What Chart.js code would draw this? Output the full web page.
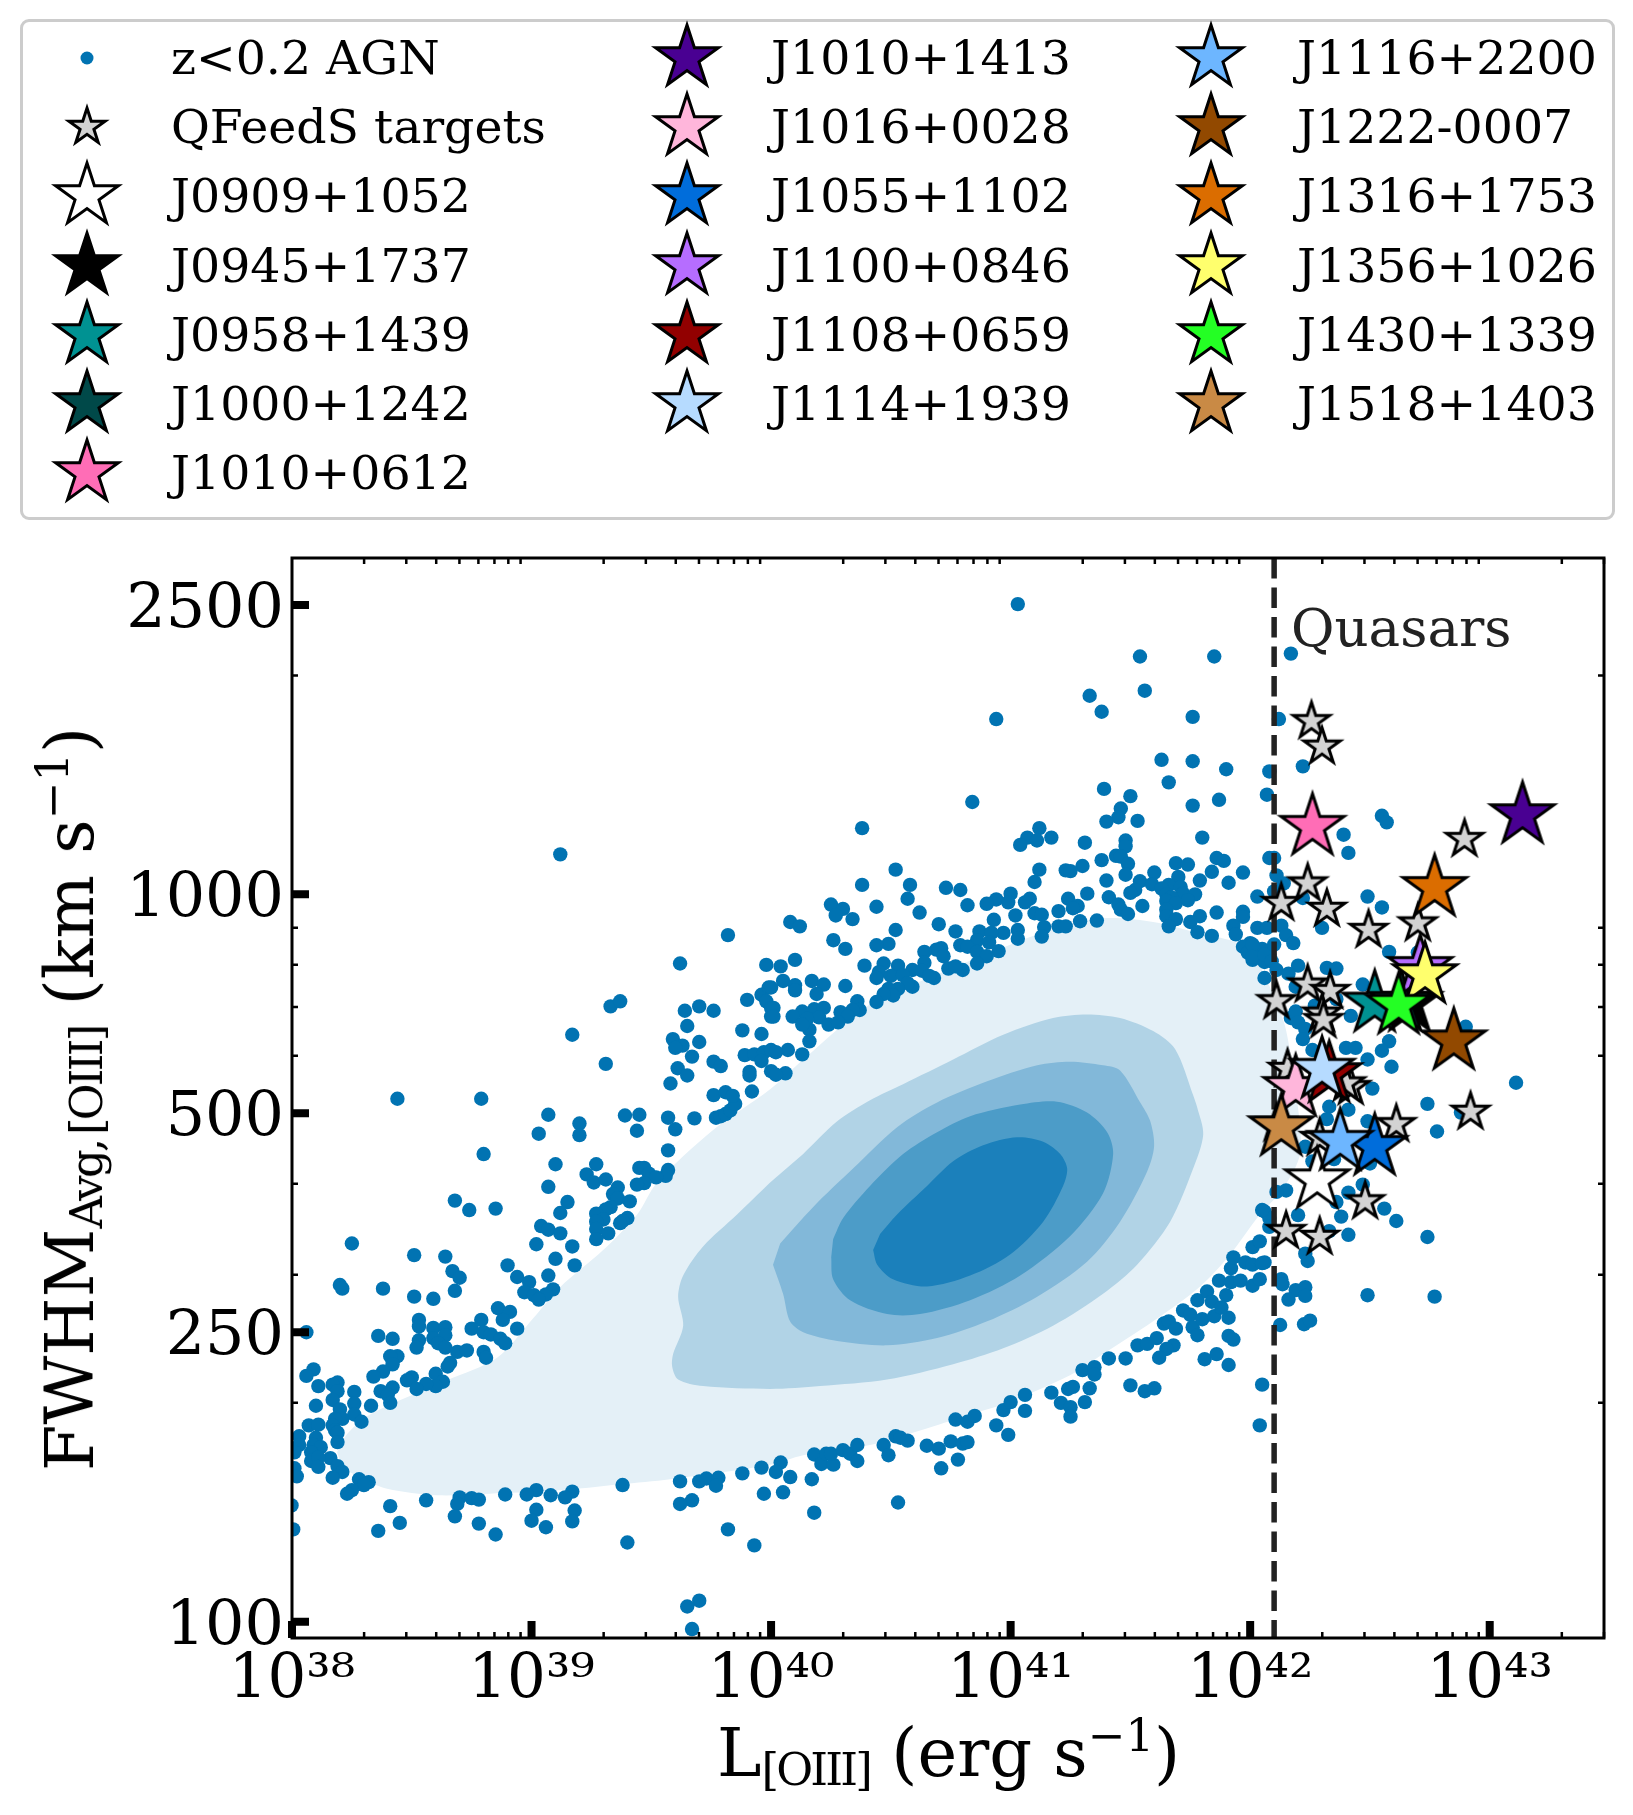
<!DOCTYPE html>
<html>
<head>
<meta charset="utf-8">
<title>FWHM vs L[OIII]</title>
<script src="https://cdn.jsdelivr.net/npm/chart.js@4"></script>
<style>
    body { margin: 0; background: #fff; font-family: "DejaVu Serif", serif; color: #000; }
    #page { position: relative; width: 1633px; height: 1815px; overflow: hidden; }
    #chart { position: absolute; left: 0; top: 0; }
    #legend { position: absolute; left: 20px; top: 19px; width: 1589px; height: 495px; border: 3px solid #ccc; border-radius: 9px; }
    .entry { position: absolute; font-size: 47.4px; line-height: 60px; white-space: nowrap; }
    .entry canvas { position: absolute; }
    .title { position: absolute; font-size: 67px; line-height: 80px; white-space: nowrap; }
    .title sub { font-size: 45px; line-height: 0; vertical-align: -9px; letter-spacing: -2.8px; word-spacing: -6px; }
    .title sup { font-size: 45px; line-height: 0; vertical-align: 25px; }
    #xTitle { left: 717px; top: 1713px; }
    #yTitle { left: 69.5px; top: 1099px; transform: translate(-50%, -50%) rotate(-90deg); }
    #quasars { position: absolute; left: 1291px; top: 596px; font-size: 53px; line-height: 64px; color: #222; }
</style>
</head>
<body>
<div id="page">
    <canvas id="chart" width="1633" height="1815"></canvas>
    <div id="legend"></div>
    <div class="title" id="xTitle">L<sub>[OIII]</sub> (erg s<sup>−1</sup>)</div>
    <div class="title" id="yTitle">FWHM<sub>Avg, [OIII]</sub> (km s<sup>−1</sup>)</div>
    <div id="quasars">Quasars</div>
</div>
<script>
// axis ticks
const xTickValues = [1e38, 1e39, 1e40, 1e41, 1e42, 1e43];
const xTickLabels = ['10³⁸', '10³⁹', '10⁴⁰', '10⁴¹', '10⁴²', '10⁴³'];
const xMinorMultiples = [2, 3, 4, 5, 6, 7, 8, 9];
const yTickValues = [100, 250, 500, 1000, 2500];
const yMinorValues = [200, 300, 400, 600, 700, 800, 900, 2000];

// axis limits
const xMin = 1e38, xMax = 3e43;
const yMin = 95, yMax = 2900;

// quasar cut, erg/s
const quasarCut = 10 ** 42.1;

// z<0.2 AGN outside the density contours, [log L, log FWHM]
const agnLowLumUpper = [
    [38.44,2.719],[38.79,2.719],[39.07,2.697],[39.03,2.671],[39.20,2.685],[39.20,2.669],[39.39,2.696],[39.45,2.697],[39.44,2.675],[39.57,2.693],
    [39.60,2.677],[39.68,2.692],[39.77,2.693],[39.79,2.695],[39.81,2.698],[39.83,2.703],[39.85,2.712],[38.80,2.643],[39.57,2.648],[39.10,2.629],
    [39.27,2.629],[39.45,2.624],[39.47,2.624],[39.49,2.616],[39.23,2.615],[39.26,2.604],[39.31,2.608],[39.57,2.621],[39.56,2.613],[39.52,2.611],
    [39.47,2.603],[39.44,2.601],[39.07,2.598],[39.36,2.597],[39.34,2.588],[39.36,2.582],[39.15,2.577],[39.41,2.578],[39.33,2.570],[39.31,2.567],
    [38.68,2.579],[38.74,2.566],[38.85,2.568],[39.12,2.562],[39.27,2.561],[39.30,2.553],[39.27,2.550],[39.40,2.555],[39.38,2.551],[39.37,2.548],
    [39.04,2.544],[39.07,2.539],[39.27,2.540],[39.12,2.534],[39.32,2.534],[39.27,2.526],[39.02,2.519],[39.17,2.516],[38.25,2.520],[38.51,2.504],
    [38.64,2.502],[39.10,2.499],[39.18,2.490],[38.90,2.490],[38.67,2.482],[38.70,2.473],[38.94,2.474],[39.07,2.476],[38.99,2.467],[38.20,2.463],
    [38.21,2.458],[38.38,2.458],[38.68,2.455],[39.09,2.457],[39.06,2.450],[38.97,2.453],[39.01,2.449],[39.03,2.443],[38.51,2.447],[38.59,2.444],
    [38.86,2.431],[38.91,2.426],[38.88,2.415],[38.53,2.415],[38.53,2.406],[38.79,2.415],[38.75,2.403],[38.94,2.403],[38.59,2.404],[38.64,2.405],
    [38.64,2.394],[38.59,2.390],[38.06,2.398],[38.36,2.393],[38.42,2.389],[38.80,2.398],[38.83,2.395],[38.87,2.389],[38.89,2.383],[38.53,2.387],
    [38.52,2.377],[38.61,2.383],[38.64,2.377],[38.69,2.371],[38.73,2.373],[38.80,2.371],[38.81,2.363],[38.44,2.365],[38.41,2.365],[38.42,2.354],
    [38.66,2.356],[38.65,2.351],[38.09,2.347],[38.06,2.338],[38.38,2.344],[38.34,2.337],[38.50,2.336],[38.48,2.332],[38.60,2.341],[38.63,2.330],
    [38.60,2.324],[38.56,2.327],[38.52,2.320],[38.19,2.329],[38.17,2.326],[38.11,2.324],[38.19,2.317],[38.42,2.322],[38.37,2.317],[38.40,2.312],
    [38.41,2.301],[38.26,2.316],[38.17,2.305],[38.26,2.300],[38.10,2.297],[38.33,2.297],[38.20,2.292],[38.26,2.285],[38.29,2.275],[38.21,2.279],
    [38.18,2.279],[38.17,2.270],[38.07,2.270],[38.11,2.271],[38.18,2.263],[38.19,2.260],[38.03,2.255],[38.10,2.253],[38.19,2.247],[38.03,2.243],
    [38.09,2.243],[38.12,2.240],[38.01,2.233],[38.08,2.233],[38.16,2.225],[38.08,2.221],[38.11,2.226],[38.19,2.214],[38.11,2.213],[38.21,2.206],
    [38.01,2.211],[38.17,2.198],[38.02,2.200],[38.28,2.196],[38.32,2.192],[38.30,2.188],[38.25,2.181],[38.23,2.176]
];
const agnLowLumLower = [
    [39.38,2.188],[39.62,2.193],[39.70,2.193],[39.73,2.197],[39.78,2.198],[39.77,2.187],[39.88,2.204],[39.96,2.212],[39.02,2.181],[38.98,2.175],
    [38.89,2.175],[39.08,2.174],[39.17,2.179],[39.14,2.171],[38.56,2.167],[38.70,2.171],[38.75,2.170],[38.78,2.168],[39.67,2.167],[39.62,2.162],
    [39.97,2.176],[38.41,2.159],[38.69,2.162],[39.18,2.153],[39.02,2.154],[38.68,2.145],[38.45,2.136],[39.00,2.139],[39.17,2.138],[38.78,2.135],
    [39.06,2.130],[38.36,2.125],[38.85,2.120],[38.005,2.127],[39.82,2.127],[39.40,2.109],[39.93,2.105],[39.70,2.029],[39.65,2.021],[39.67,1.990],
    [37.998,2.160]
];
const agnFarUpper = [
    [39.12,3.055],[39.17,2.807],[39.33,2.846],[39.37,2.853],[39.31,2.767],[39.82,2.944],[39.62,2.905],[39.98,2.903],[39.64,2.840],[39.70,2.846],
    [39.76,2.840],[39.65,2.819],[39.90,2.855],[39.96,2.862],[39.99,2.872],[39.98,2.853],[40.00,2.832],[39.88,2.813],[39.96,2.808],[39.59,2.801],
    [39.63,2.792],[39.60,2.789],[39.70,2.797],[39.67,2.777],[39.76,2.770],[39.79,2.764],[39.61,2.761],[39.65,2.751],[39.58,2.740],[39.89,2.779],
    [39.93,2.780],[39.97,2.783],[39.96,2.771],[40.00,2.786],[39.91,2.756],[39.91,2.751],[40.00,2.757],[39.92,2.729],[39.76,2.724],[39.81,2.728],
    [39.84,2.723]
];
const agnHighLumUpper = [
    [41.03,3.399],[41.54,3.327],[41.85,3.327],[41.33,3.273],[41.38,3.251],[41.56,3.280],[41.76,3.244],[40.94,3.241],[41.63,3.185],[41.76,3.183],
    [41.90,3.172],[41.66,3.154],[42.08,3.169],[42.07,3.137],[41.87,3.130],[41.76,3.122],[40.84,3.127],[40.38,3.091],[41.39,3.145],[41.50,3.135],
    [41.46,3.118],[41.45,3.106],[41.40,3.100],[41.53,3.101],[41.80,3.078],[41.12,3.091],[41.07,3.078],[41.11,3.074],[41.04,3.068],[41.17,3.078],
    [41.31,3.071],[41.48,3.074],[41.48,3.066],[41.38,3.047],[41.44,3.053],[41.46,3.052],[41.49,3.042],[41.86,3.050],[41.89,3.046],[42.08,3.050],
    [41.69,3.043],[41.74,3.041],[41.84,3.031],[41.97,3.030],[41.30,3.039],[41.23,3.033],[41.25,3.032],[41.12,3.034],[40.52,3.034],[41.10,3.017],
    [40.38,3.013],[40.58,3.013],[41.48,3.027],[41.40,3.019],[41.60,3.030],[41.54,3.018],[41.59,3.014],[41.70,3.024],[41.66,3.013],[41.79,3.019],
    [41.91,3.016],[41.71,3.010],[41.63,3.008],[40.73,3.009],[40.79,3.006],[41.52,3.006],[41.50,3.002],[41.32,3.001],[41.65,3.000],[41.72,3.001],
    [41.77,3.000],[41.67,2.996],[42.03,2.997],[41.00,3.001],[40.57,2.994],[40.82,2.985],[40.94,2.993],[40.90,2.987],[40.99,2.989],[41.08,2.994],
    [41.06,2.989],[41.24,2.994],[41.41,2.996],[41.65,2.991],[41.69,2.988],[41.74,2.992],[40.25,2.986],[40.30,2.980],[40.27,2.971],[40.34,2.966],
    [40.44,2.983],[40.62,2.975],[40.08,2.962],[40.12,2.956],[41.28,2.984],[41.26,2.981],[41.20,2.977],[41.45,2.986],[41.46,2.979],[41.49,2.973],
    [41.55,2.984],[41.65,2.979],[41.65,2.970],[41.86,2.975],[41.97,2.976],[41.97,2.969],[41.02,2.971],[41.10,2.974],[41.13,2.972],[40.93,2.965],
    [41.79,2.970],[41.69,2.966],[40.70,2.959],[41.36,2.964],[41.29,2.963],[41.75,2.962],[41.20,2.956],[41.23,2.956],[41.66,2.956],[41.14,2.955],
    [41.93,2.957],[42.03,2.954],[42.07,2.954],[40.52,2.951],[40.77,2.949],[40.87,2.949],[41.03,2.951],[41.78,2.948],[41.84,2.943],[41.94,2.945],
    [40.97,2.947],[40.92,2.947],[41.13,2.942],[40.26,2.937],[41.03,2.939],[40.86,2.937],[40.49,2.932],[40.44,2.930],[40.91,2.934],[40.79,2.930],
    [40.82,2.928],[40.31,2.925],[42.00,2.933],[41.97,2.928],[42.05,2.925],[40.71,2.926],[40.69,2.924],[40.64,2.921],[40.95,2.922],[40.86,2.921],
    [40.90,2.915],[40.72,2.915],[41.99,2.920],[42.08,2.917],[40.10,2.910],[40.86,2.905],[40.64,2.906],[40.39,2.902],[40.47,2.905],[40.53,2.902],
    [40.04,2.901],[42.01,2.910],[42.06,2.907],[40.74,2.898],[40.80,2.896],[40.77,2.901],[40.59,2.896],[40.63,2.895],[40.45,2.893],[40.50,2.888],
    [40.44,2.885],[40.55,2.889],[40.68,2.885],[40.66,2.888],[42.06,2.885],[40.17,2.881],[40.22,2.876],[40.05,2.881],[40.10,2.875],[40.10,2.868],
    [40.00,2.872],[40.31,2.874],[40.59,2.873],[40.57,2.878],[40.19,2.863],[40.53,2.870],[40.49,2.870],[40.51,2.861],[40.47,2.863],[40.36,2.853],
    [40.44,2.852],[40.37,2.841],[40.34,2.841],[40.00,2.844],[40.01,2.844],[40.01,2.832],[40.18,2.842],[40.22,2.844],[40.13,2.839],[40.09,2.832],
    [40.29,2.838],[40.32,2.832],[40.20,2.831],[40.15,2.829],[40.24,2.821],[40.28,2.824],[40.16,2.814],[40.13,2.821],[40.16,2.798],[40.07,2.786],
    [40.02,2.783],[40.13,2.780],[40.06,2.754],[40.02,2.752]
];
const agnHighLumLower = [
    [40.04,2.219],[40.02,2.206],[40.08,2.199],[40.05,2.178],[40.17,2.196],[40.18,2.150],[40.18,2.230],[40.21,2.217],[40.23,2.231],[40.26,2.216],
    [40.25,2.231],[40.30,2.236],[40.33,2.231],[40.36,2.243],[40.36,2.221],[40.47,2.243],[40.49,2.229],[40.52,2.255],[40.54,2.253],[40.57,2.249],
    [40.53,2.164],[40.65,2.242],[40.70,2.238],[40.75,2.248],[40.80,2.245],[40.82,2.247],[40.71,2.211],[40.78,2.223],[40.77,2.278],[40.82,2.275],
    [40.85,2.283],[40.94,2.270],[40.99,2.257],[40.97,2.291],[41.00,2.302],[41.06,2.312],[41.06,2.290],[41.17,2.315],[41.21,2.301],[41.24,2.320],
    [41.26,2.323],[41.25,2.295],[41.25,2.282],[41.33,2.321],[41.31,2.302],[41.30,2.346],[41.35,2.350],[41.35,2.340],[41.41,2.362],[41.48,2.362],
    [41.50,2.325],[41.56,2.317],[41.60,2.321],[41.53,2.380],[41.57,2.382],[41.61,2.390],[41.68,2.380],[41.65,2.375],[41.62,2.363],[41.64,2.410],
    [41.66,2.413],[41.69,2.403],[41.72,2.428],[41.75,2.422],[41.76,2.405],[41.78,2.394],[41.80,2.416],[41.85,2.420],[41.91,2.418],[41.91,2.393],
    [41.93,2.388],[41.81,2.361],[41.86,2.368],[41.91,2.353],[42.04,2.270],[42.05,2.326],[41.78,2.442],[41.82,2.454],[41.84,2.440],[41.87,2.469],
    [41.88,2.432],[41.90,2.449],[41.92,2.467],[41.96,2.469],[41.92,2.486],[41.93,2.501],[41.98,2.494],[42.01,2.491],[42.06,2.494],[42.01,2.462],
    [42.04,2.471],[42.01,2.515],[42.04,2.523],[42.06,2.564],[42.08,2.555]
];
const agnQuasars = [
    [42.17,3.331],[42.12,3.241],[42.22,3.176],[42.55,3.108],[42.57,3.099],[42.39,3.082],[42.41,3.057],[42.10,3.050],[42.11,3.026],[42.14,3.015],
    [42.10,3.004],[42.22,2.995],[42.49,2.997],[42.55,2.982],[42.13,2.957],[42.15,2.944],[42.18,2.933],[42.30,2.954],[42.10,2.931],[42.58,2.921],
    [42.70,2.920],[42.01,2.931],[42.01,2.914],[42.06,2.917],[42.09,2.908],[42.11,2.896],[42.20,2.902],[42.32,2.899],[42.36,2.898],[42.16,2.891],
    [42.19,2.873],[42.47,2.876],[42.27,2.847],[42.36,2.856],[42.17,2.830],[42.19,2.839],[42.42,2.833],[42.20,2.824],[42.23,2.815],[42.22,2.801],
    [42.90,2.818],[42.58,2.798],[42.55,2.785],[42.40,2.789],[42.44,2.789],[42.49,2.773],[42.59,2.763],[42.26,2.786],[42.51,2.733],[43.11,2.741],
    [42.74,2.712],[42.33,2.708],[42.41,2.704],[42.88,2.700],[42.78,2.674],[42.49,2.688],[42.32,2.691],[42.23,2.653],[42.26,2.633],[42.35,2.636],
    [42.50,2.630],[42.47,2.601],[42.15,2.593],[42.11,2.591],[42.41,2.590],[42.36,2.577],[42.05,2.566],[42.08,2.543],[42.20,2.559],[42.38,2.557],
    [42.56,2.568],[42.61,2.551],[42.33,2.537],[42.41,2.532],[42.74,2.529],[42.23,2.506],[42.24,2.496],[42.13,2.471],[42.05,2.493],[42.135,2.464],
    [42.19,2.456],[42.23,2.460],[42.23,2.448],[42.16,2.443],[42.49,2.449],[42.77,2.447],[42.125,2.408],[42.225,2.409],[42.25,2.414]
];

// density contours (filled), [log L, log FWHM]
const contourLevel1 = [
    [38.188,2.233],[38.23,2.258],[38.326,2.285],[38.647,2.332],[38.856,2.363],[39.006,2.417],[39.119,2.460],[39.299,2.511],[39.441,2.560],[39.524,2.604],
    [39.758,2.676],[39.996,2.732],[40.134,2.773],[40.413,2.849],[40.693,2.890],[40.969,2.927],[41.177,2.952],[41.386,2.967],[41.595,2.962],[41.804,2.945],
    [41.946,2.933],[42.029,2.908],[42.138,2.827],[42.159,2.798],[42.196,2.717],[42.209,2.644],[42.138,2.596],[42.029,2.555],[41.917,2.505],[41.791,2.461],
    [41.595,2.413],[41.386,2.368],[41.248,2.339],[40.969,2.299],[40.831,2.285],[40.622,2.263],[40.413,2.243],[40.134,2.229],[39.996,2.216],[39.578,2.196],
    [39.370,2.189],[39.161,2.182],[38.881,2.177],[38.605,2.174],[38.397,2.183],[38.296,2.196],[38.213,2.211]
];
const contourLevel2 = [
    [39.996,2.604],[39.858,2.560],[39.716,2.516],[39.633,2.476],[39.612,2.447],[39.633,2.407],[39.591,2.368],[39.587,2.351],[39.612,2.333],[39.716,2.324],
    [39.996,2.320],[40.205,2.324],[40.484,2.333],[40.760,2.354],[40.969,2.376],[41.177,2.407],[41.386,2.451],[41.528,2.491],[41.666,2.550],[41.762,2.623],
    [41.804,2.670],[41.779,2.707],[41.762,2.724],[41.687,2.787],[41.595,2.812],[41.457,2.830],[41.319,2.835],[41.177,2.830],[40.969,2.807],[40.760,2.773],
    [40.551,2.739],[40.413,2.717],[40.276,2.688],[40.134,2.643]
];
const contourLevel3 = [
    [40.008,2.491],[40.050,2.451],[40.079,2.413],[40.134,2.398],[40.276,2.386],[40.484,2.380],[40.693,2.390],[40.902,2.413],[41.111,2.447],[41.319,2.495],
    [41.457,2.550],[41.570,2.619],[41.599,2.654],[41.582,2.689],[41.541,2.714],[41.457,2.758],[41.386,2.765],[41.248,2.770],[41.111,2.765],[40.902,2.743],
    [40.693,2.714],[40.526,2.680],[40.342,2.623],[40.175,2.570],[40.038,2.520]
];
const contourLevel4 = [
    [40.251,2.501],[40.259,2.471],[40.330,2.442],[40.484,2.423],[40.622,2.423],[40.831,2.442],[41.040,2.476],[41.248,2.530],[41.386,2.589],[41.428,2.643],
    [41.403,2.673],[41.319,2.700],[41.194,2.715],[41.040,2.711],[40.831,2.695],[40.693,2.673],[40.551,2.643],[40.413,2.599],[40.301,2.555],[40.259,2.526]
];
const contourLevel5 = [
    [40.426,2.511],[40.443,2.491],[40.509,2.471],[40.651,2.461],[40.831,2.476],[40.998,2.505],[41.136,2.550],[41.219,2.599],[41.236,2.623],[41.207,2.643],
    [41.136,2.660],[41.027,2.666],[40.885,2.655],[40.760,2.633],[40.651,2.599],[40.526,2.560],[40.455,2.533]
];

// all QFeedS targets in grey, [log L, log FWHM]
const greyTargets = [
    [42.256,3.238],[42.30,3.203],[42.895,3.076],[42.24,3.015],[42.13,2.988],[42.32,2.980],[42.494,2.951],[42.70,2.960],[42.11,2.853],[42.24,2.876],
    [42.334,2.867],[42.30,2.836],[42.306,2.827],[42.156,2.760],[42.42,2.735],[42.40,2.740],[42.61,2.684],[42.92,2.701],[42.29,2.665],[42.11,2.685],
    [42.48,2.578],[42.15,2.537],[42.29,2.529]
];

// highlighted targets
const targetNames = ['J0909+1052', 'J0945+1737', 'J0958+1439', 'J1000+1242', 'J1010+0612', 'J1010+1413', 'J1016+0028', 'J1055+1102',
    'J1100+0846', 'J1108+0659', 'J1114+1939', 'J1116+2200', 'J1222-0007', 'J1316+1753', 'J1356+1026', 'J1430+1339', 'J1518+1403'];
const targetColors = ['#ffffff', '#000000', '#009292', '#004949', '#ff6db6', '#490092', '#ffb6db', '#006ddb',
    '#b66dff', '#920000', '#b6dbff', '#6db6ff', '#924900', '#db6d00', '#ffff6d', '#24ff24', '#c98a45'];
const targetLogL = [42.28, 42.665, 42.52, 42.63, 42.26, 43.137, 42.19, 42.52, 42.71, 42.33, 42.30, 42.376, 42.85, 42.77, 42.73, 42.62, 42.13];
const targetLogFwhm = [2.607, 2.851, 2.850, 2.851, 3.093, 3.109, 2.734, 2.653, 2.899, 2.753, 2.759, 2.660, 2.798, 3.009, 2.889, 2.847, 2.680];

const agnColor = '#0173b2';
const contourColors = ['#e4f0f7', '#b1d3e6', '#82b8d9', '#4c9cc8', '#1b80bb'];

// log values -> chart points
function toPoints(pairs) {
    return pairs.map(p => ({ x: 10 ** p[0], y: 10 ** p[1] }));
}

// five pointed star, Chart.js has none of its own
function makeStar(color, radius) {
    const size = Math.ceil(radius * 2 + 16);
    const c = document.createElement('canvas');
    c.width = size;
    c.height = size;
    const ctx = c.getContext('2d');
    ctx.beginPath();
    for (let i = 0; i < 10; i++) {
        const r = i % 2 ? radius * 0.382 : radius;
        const a = -Math.PI / 2 + i * Math.PI / 5;
        ctx.lineTo(size / 2 + r * Math.cos(a), size / 2 + r * Math.sin(a));
    }
    ctx.closePath();
    ctx.fillStyle = color;
    ctx.fill();
    ctx.lineWidth = 3;
    ctx.lineJoin = 'miter';
    ctx.miterLimit = 10;
    ctx.strokeStyle = '#000';
    ctx.stroke();
    return c;
}

const BIG_STAR = 33;
const SMALL_STAR = 19;

// build the datasets, lowest order is drawn on top
const datasets = [];
targetNames.forEach((name, i) => {
    datasets.push({
        label: name,
        data: [{ x: 10 ** targetLogL[i], y: 10 ** targetLogFwhm[i] }],
        pointStyle: makeStar(targetColors[i], BIG_STAR),
        pointRadius: 10,
        order: targetNames.length - i
    });
});
datasets.push({
    label: 'QFeedS targets',
    data: toPoints(greyTargets),
    pointStyle: makeStar('#d3d3d3', SMALL_STAR),
    pointRadius: 10,
    order: 20
});
datasets.push({
    label: 'Quasar limit',
    data: [{ x: quasarCut, y: yMax }, { x: quasarCut, y: yMin }],
    showLine: true,
    borderColor: '#222',
    borderWidth: 5.5,
    borderDash: [20.5, 9],
    pointRadius: 0,
    order: 21
});
datasets.push({
    label: 'z<0.2 AGN',
    data: toPoints([].concat(agnLowLumUpper, agnLowLumLower, agnFarUpper, agnHighLumUpper, agnHighLumLower, agnQuasars)),
    backgroundColor: agnColor,
    borderWidth: 0,
    pointRadius: 7.2,
    order: 22
});
[contourLevel5, contourLevel4, contourLevel3, contourLevel2, contourLevel1].forEach((level, i) => {
    datasets.push({
        label: 'density ' + (5 - i),
        data: toPoints(level),
        showLine: true,
        fill: 'shape',
        tension: 0.3,
        backgroundColor: contourColors[4 - i],
        borderWidth: 0,
        pointRadius: 0,
        order: 23 + i
    });
});

// frame and inward ticks, matplotlib style
const frameAndTicks = {
    id: 'frameAndTicks',
    afterDatasetsDraw(chart) {
        const { ctx, chartArea: a, scales: { x, y } } = chart;
        const MAJOR = 17, MINOR = 6;
        ctx.save();
        ctx.strokeStyle = '#000';
        ctx.lineWidth = 3;
        ctx.strokeRect(a.left, a.top, a.right - a.left, a.bottom - a.top);
        ctx.lineWidth = 2.5;
        ctx.beginPath();
        xTickValues.forEach(v => xMinorMultiples.forEach(m => {
            const px = x.getPixelForValue(v * m);
            if (px > a.right) return;
            ctx.moveTo(px, a.bottom); ctx.lineTo(px, a.bottom - MINOR);
            ctx.moveTo(px, a.top); ctx.lineTo(px, a.top + MINOR);
        }));
        yMinorValues.forEach(v => {
            const py = y.getPixelForValue(v);
            ctx.moveTo(a.left, py); ctx.lineTo(a.left + MINOR, py);
            ctx.moveTo(a.right, py); ctx.lineTo(a.right - MINOR, py);
        });
        ctx.stroke();
        ctx.lineWidth = 8;
        ctx.beginPath();
        xTickValues.forEach(v => {
            const px = x.getPixelForValue(v);
            ctx.moveTo(px, a.bottom); ctx.lineTo(px, a.bottom - MAJOR);
        });
        yTickValues.forEach(v => {
            const py = y.getPixelForValue(v);
            ctx.moveTo(a.left, py); ctx.lineTo(a.left + MAJOR, py);
        });
        ctx.stroke();
        ctx.restore();
    }
};

new Chart(document.getElementById('chart'), {
    type: 'scatter',
    data: { datasets: datasets },
    plugins: [frameAndTicks],
    options: {
        responsive: false,
        animation: false,
        layout: { padding: { top: 558, right: 29, bottom: 0, left: 0 } },
        plugins: { legend: { display: false }, tooltip: { enabled: false } },
        scales: {
            x: {
                type: 'logarithmic',
                min: xMin,
                max: xMax,
                grid: { display: false, drawTicks: false },
                border: { display: false },
                afterBuildTicks: s => { s.ticks = xTickValues.map(v => ({ value: v })); },
                afterFit: s => { s.height = 177; },
                ticks: {
                    autoSkip: false,
                    maxRotation: 0,
                    padding: 7,
                    color: '#000',
                    font: { family: '"DejaVu Serif"', size: 61 },
                    callback: v => xTickLabels[xTickValues.indexOf(v)]
                }
            },
            y: {
                type: 'logarithmic',
                min: yMin,
                max: yMax,
                grid: { display: false, drawTicks: false },
                border: { display: false },
                afterBuildTicks: s => { s.ticks = yTickValues.map(v => ({ value: v })); },
                afterFit: s => { s.width = 292; },
                ticks: {
                    autoSkip: false,
                    padding: 8,
                    labelOffset: 6,
                    color: '#000',
                    font: { family: '"DejaVu Serif"', size: 62 },
                    callback: v => String(v)
                }
            }
        }
    }
});

// html legend, filled column by column like the figure
const legendRows = [
    ['z<0.2 AGN', 'QFeedS targets'].concat(targetNames.slice(0, 5)),
    targetNames.slice(5, 11),
    targetNames.slice(11)
];
const legendStarX = [64, 664, 1188];
const legendTextX = [148, 748, 1274];
const legendEl = document.getElementById('legend');
legendRows.forEach((names, col) => {
    names.forEach((name, row) => {
        const entry = document.createElement('div');
        entry.className = 'entry';
        entry.style.left = legendTextX[col] + 'px';
        entry.style.top = (row * 69.2 + 6) + 'px';
        entry.textContent = name;
        let marker;
        if (name === 'z<0.2 AGN') {
            marker = document.createElement('canvas');
            marker.width = marker.height = 16;
            const m = marker.getContext('2d');
            m.fillStyle = agnColor;
            m.beginPath();
            m.arc(8, 8, 6.5, 0, Math.PI * 2);
            m.fill();
        } else if (name === 'QFeedS targets') {
            marker = makeStar('#d3d3d3', SMALL_STAR);
        } else {
            marker = makeStar(targetColors[targetNames.indexOf(name)], BIG_STAR);
        }
        marker.style.left = (legendStarX[col] - legendTextX[col] - marker.width / 2) + 'px';
        marker.style.top = (30 - marker.height / 2) + 'px';
        entry.appendChild(marker);
        legendEl.appendChild(entry);
    });
});
</script>
</body>
</html>
